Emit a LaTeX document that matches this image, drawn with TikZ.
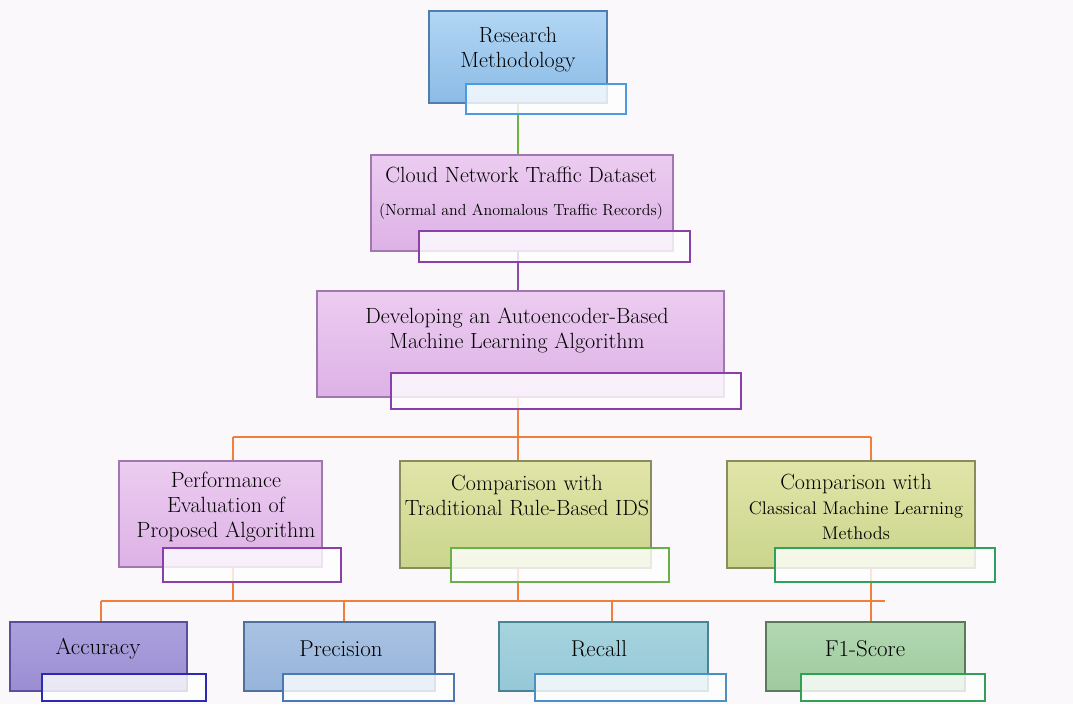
\documentclass[tikz,border=0pt]{standalone}
\usetikzlibrary{calc}

\definecolor{paperbg}{HTML}{FBF8FB}
\definecolor{blutop}{HTML}{B2D6F4}
\definecolor{blubot}{HTML}{8BBBE6}
\definecolor{bluline}{HTML}{4F7DAE}
\definecolor{blulab}{HTML}{4A9BDF}
\definecolor{pnktop}{HTML}{ECCCF0}
\definecolor{pnkbot}{HTML}{DDB2E6}
\definecolor{pnkline}{HTML}{A077B0}
\definecolor{pnklab}{HTML}{8A40A8}
\definecolor{olvtop}{HTML}{E1E5A8}
\definecolor{olvbot}{HTML}{CAD58C}
\definecolor{olvline}{HTML}{8A8C60}
\definecolor{grnlab}{HTML}{6AB04A}
\definecolor{teallab}{HTML}{2FA05E}
\definecolor{acctop}{HTML}{ACA1DE}
\definecolor{accbot}{HTML}{9A8ED2}
\definecolor{accline}{HTML}{5A4F9A}
\definecolor{acclab}{HTML}{2A2AB4}
\definecolor{prctop}{HTML}{A9C2E2}
\definecolor{prcbot}{HTML}{96B4DA}
\definecolor{prcline}{HTML}{5070A0}
\definecolor{prclab}{HTML}{4A78B2}
\definecolor{rectop}{HTML}{A6D4DF}
\definecolor{recbot}{HTML}{95C8D6}
\definecolor{recline}{HTML}{4A8296}
\definecolor{reclab}{HTML}{4A90C4}
\definecolor{fsctop}{HTML}{B2D8B2}
\definecolor{fscbot}{HTML}{9FCA9F}
\definecolor{fscline}{HTML}{5A7A5A}
\definecolor{fsclab}{HTML}{30A052}
\definecolor{wiregrn}{HTML}{6CB33F}
\definecolor{wirepur}{HTML}{8B4CA8}
\definecolor{wireorg}{HTML}{F07F3C}

\newcommand{\boxfont}{\fontsize{16.5}{18.75}\selectfont}
\newcommand{\metricfont}{\fontsize{17.2}{18.75}\selectfont}
\newcommand{\subfont}{\fontsize{12}{18.75}\selectfont}
\newcommand{\midfont}{\fontsize{13.7}{18.75}\selectfont}

\pgfdeclarelayer{paper}
\pgfdeclarelayer{wires}
\pgfsetlayers{paper,wires,main}

\tikzset{
    box/.style n args={3}{rectangle, top color=#1, bottom color=#2, draw=#3, line width=0.8pt},
    labbox/.style={rectangle, draw=#1, fill=white, fill opacity=0.8, line width=1pt},
    txt/.style={align=center, font=\boxfont, text=black},
    mtxt/.style={txt, font=\metricfont},
    wire/.style={line width=1.5pt, draw=#1}
}

\begin{document}
\begin{tikzpicture}[x=0.75pt,y=-0.75pt]
    \begin{pgfonlayer}{paper}
        \fill [paperbg] (0,0) rectangle (1073,704);
    \end{pgfonlayer}

    % top of the tree
    \node (rm) [box={blutop}{blubot}{bluline}, minimum width=133.5pt, minimum height=69pt] at (518,57) {};
    \node (rmlab) [labbox=blulab, minimum width=120pt, minimum height=22.5pt] at (546,99) {};
    \node (rmtxt) [txt] at (518,50) {Research\\Methodology};

    \node (cloud) [box={pnktop}{pnkbot}{pnkline}, minimum width=226.5pt, minimum height=72pt] at (522,203) {};
    \node (cloudlab) [labbox=pnklab, minimum width=203.25pt, minimum height=23.25pt] at (554.5,246.5) {};
    \node (cloudtxt) [txt] at (521,193) {Cloud Network Traffic Dataset\\[6pt]{\subfont (Normal and Anomalous Traffic Records)}};

    \node (dev) [box={pnktop}{pnkbot}{pnkline}, minimum width=305.25pt, minimum height=79.5pt] at (520.5,344) {};
    \node (devlab) [labbox=pnklab, minimum width=262.5pt, minimum height=27pt] at (566,391) {};
    \node (devtxt) [txt] at (517,330) {Developing an Autoencoder-Based\\Machine Learning Algorithm};

    % middle row
    \node (perf) [box={pnktop}{pnkbot}{pnkline}, minimum width=152.25pt, minimum height=79.5pt] at (220.5,514) {};
    \node (perflab) [labbox=pnklab, minimum width=133.5pt, minimum height=25.5pt] at (252,565) {};
    \node (perftxt) [txt] at (226,507) {Performance\\Evaluation of\\Proposed Algorithm};

    \node (trad) [box={olvtop}{olvbot}{olvline}, minimum width=188.25pt, minimum height=80.25pt] at (525.5,514.5) {};
    \node (tradlab) [labbox=grnlab, minimum width=163.5pt, minimum height=25.5pt] at (560,565) {};
    \node (tradtxt) [txt] at (527,495) {Comparison with\\Traditional Rule-Based IDS};

    \node (cml) [box={olvtop}{olvbot}{olvline}, minimum width=186pt, minimum height=80.25pt] at (851,514.5) {};
    \node (cmllab) [labbox=teallab, minimum width=165pt, minimum height=25.5pt] at (885,565) {};
    \node (cmltxt) [txt] at (856,507) {Comparison with\\{\midfont Classical Machine Learning}\\{\midfont Methods}};

    % metrics
    \node (acc) [box={acctop}{accbot}{accline}, minimum width=132.75pt, minimum height=51.75pt] at (98.5,656.5) {};
    \node (acclab) [labbox=acclab, minimum width=123pt, minimum height=20.25pt] at (124,687.5) {};
    \node (acctxt) [mtxt] at (98,649) {Accuracy};

    \node (prec) [box={prctop}{prcbot}{prcline}, minimum width=143.25pt, minimum height=51.75pt] at (339.5,656.5) {};
    \node (preclab) [labbox=prclab, minimum width=128.25pt, minimum height=20.25pt] at (368.5,687.5) {};
    \node (prectxt) [mtxt] at (341,649) {Precision};

    \node (rec) [box={rectop}{recbot}{recline}, minimum width=156.75pt, minimum height=51.75pt] at (603.5,656.5) {};
    \node (reclab) [labbox=reclab, minimum width=143.25pt, minimum height=20.25pt] at (630.5,687.5) {};
    \node (rectxt) [mtxt] at (599,649) {Recall};

    \node (f1) [box={fsctop}{fscbot}{fscline}, minimum width=149.25pt, minimum height=51.75pt] at (865.5,656.5) {};
    \node (f1lab) [labbox=fsclab, minimum width=138pt, minimum height=20.25pt] at (893,687.5) {};
    \node (f1txt) [mtxt] at (865,649) {F1-Score};

    % junctions of the orange bars
    \coordinate (bar1) at (518,437);
    \coordinate (bar1l) at (233,437);
    \coordinate (bar1r) at (871,437);
    \coordinate (bar2l) at (101,601);
    \coordinate (bar2r) at (885,601);
    \coordinate (dprec) at (344,601);
    \coordinate (drec) at (612,601);

    \begin{pgfonlayer}{wires}
        \draw [wire=wiregrn] (rm.south) to (rm.south |- cloud.north);
        \draw [wire=wirepur] (rm.south |- cloud.south) to (rm.south |- dev.north);
        \draw [wire=wireorg] (bar1 |- dev.south) to (bar1);
        \draw [wire=wireorg] (bar1l) to (bar1r);
        \draw [wire=wireorg] (bar1l) to (bar1l |- perf.north);
        \draw [wire=wireorg] (bar1) to (bar1 |- trad.north);
        \draw [wire=wireorg] (bar1r) to (bar1r |- cml.north);
        \draw [wire=wireorg] (bar1l |- perf.south) to (bar1l |- bar2l);
        \draw [wire=wireorg] (bar1 |- trad.south) to (bar1 |- bar2l);
        \draw [wire=wireorg] (bar1r |- cml.south) to (bar1r |- acc.north);
        \draw [wire=wireorg] (bar2l) to (bar2r);
        \draw [wire=wireorg] (bar2l) to (bar2l |- acc.north);
        \draw [wire=wireorg] (dprec) to (dprec |- prec.north);
        \draw [wire=wireorg] (drec) to (drec |- rec.north);
    \end{pgfonlayer}
\end{tikzpicture}
\end{document}
